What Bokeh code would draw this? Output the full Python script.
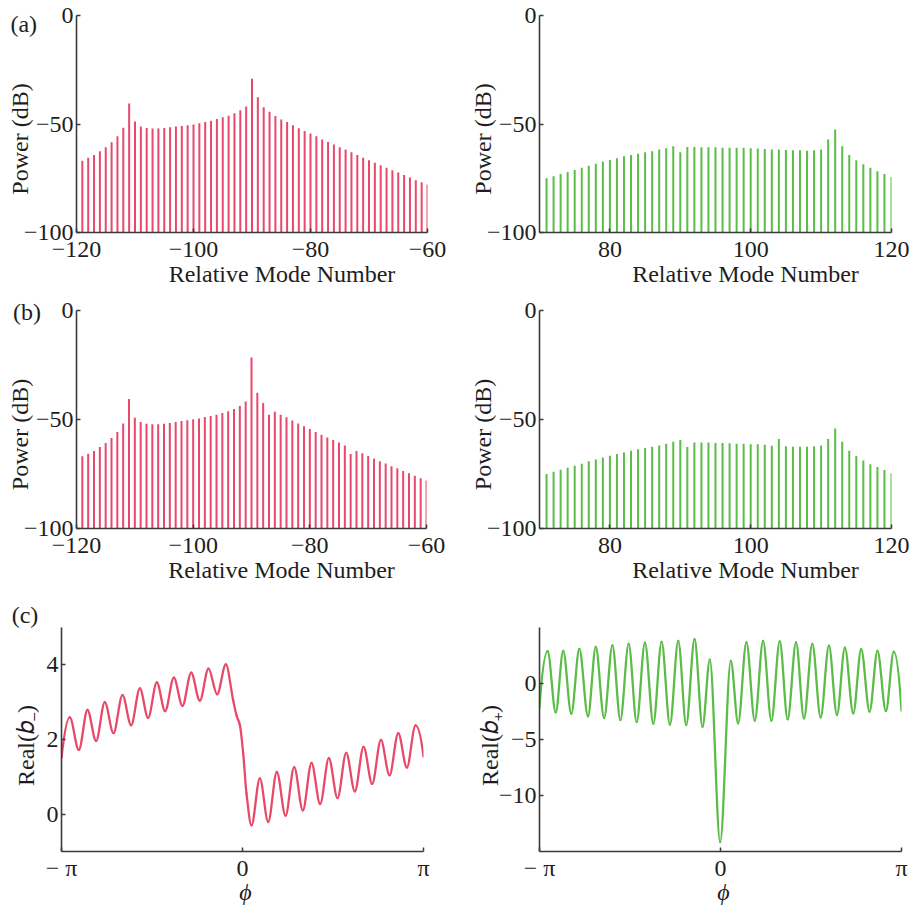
import numpy as np
from bokeh.plotting import figure
from bokeh.layouts import column, row
from bokeh.models import Range1d, FixedTicker, Label, ColumnDataSource
from bokeh.embed import file_html
from bokeh.resources import INLINE

# ---------------- data ----------------
modes_left = list(range(-119, -59))          # relative mode numbers, left spectra
modes_right = list(range(71, 121))           # relative mode numbers, right spectra

power_a_left = [-66.9, -65.6, -64.3, -62.6, -60.7, -58.4, -55.7, -51.7, -40.6, -48.9,
                -51.1, -51.8, -52.1, -52.1, -51.8, -51.5, -51.2, -50.9, -50.6, -50.2,
                -49.7, -49.1, -48.5, -47.7, -46.9, -46.2, -45.1, -43.7, -41.9, -29.1,
                -37.7, -42.3, -44.3, -46.3, -47.9, -49.1, -50.6, -52.0, -53.2, -54.4,
                -55.7, -57.1, -58.3, -59.5, -60.7, -61.8, -63.0, -64.3, -65.5, -66.7,
                -67.8, -69.0, -70.2, -71.3, -72.4, -73.5, -74.7, -75.9, -76.8, -77.9]

power_a_right = [-75.0, -74.1, -73.0, -72.1, -71.2, -70.2, -69.2, -68.3, -67.3, -66.6,
                 -65.8, -64.9, -64.3, -63.7, -63.0, -62.6, -61.8, -61.2, -60.3, -63.0,
                 -60.6, -60.6, -60.7, -60.7, -60.7, -60.9, -60.9, -61.0, -61.0, -61.2,
                 -61.3, -61.5, -61.7, -61.8, -62.0, -62.1, -62.1, -62.3, -62.1, -61.8,
                 -57.2, -52.5, -60.3, -64.3, -66.7, -68.6, -70.2, -71.8, -73.0, -74.4]

power_b_left = [-66.9, -65.7, -64.4, -62.6, -60.8, -58.5, -55.7, -51.8, -40.6, -49.2,
                -51.1, -51.9, -52.2, -52.2, -51.9, -51.6, -51.1, -50.7, -50.4, -49.9,
                -49.5, -48.9, -48.4, -47.8, -47.0, -46.2, -45.2, -43.8, -41.8, -21.6,
                -37.7, -42.4, -47.8, -46.4, -47.8, -49.0, -50.5, -51.8, -53.1, -54.4,
                -55.7, -57.0, -58.2, -59.4, -60.6, -61.9, -65.8, -64.5, -65.5, -66.8,
                -68.0, -69.1, -70.2, -71.4, -72.4, -73.6, -74.7, -75.8, -76.9, -78.0]

power_b_right = [-75.0, -74.0, -73.0, -72.1, -71.2, -70.3, -69.2, -68.3, -67.4, -66.6,
                 -65.8, -65.1, -64.3, -63.7, -63.1, -62.5, -61.9, -61.1, -60.2, -59.4,
                 -62.6, -60.6, -60.6, -60.6, -60.8, -60.8, -60.9, -61.1, -61.1, -61.3,
                 -61.4, -61.6, -62.0, -58.9, -62.3, -62.5, -62.5, -62.5, -62.3, -61.9,
                 -58.9, -54.1, -60.2, -64.3, -66.8, -68.8, -70.5, -71.8, -73.2, -74.6]

# (c) extrema / knots of Real(b-) and Real(b+) versus phi
phi_minus = [-3.142, -2.998, -2.841, -2.691, -2.541, -2.390, -2.240, -2.083, -1.933, -1.782,
             -1.638, -1.487, -1.343, -1.192, -1.042, -0.891, -0.741, -0.590, -0.440, -0.289,
             -0.162, -0.104, -0.046, 0.012, 0.069, 0.156, 0.301, 0.446, 0.596, 0.747,
             0.897, 1.047, 1.198, 1.348, 1.499, 1.649, 1.800, 1.950, 2.101, 2.251,
             2.402, 2.552, 2.703, 2.853, 3.003, 3.142]
real_b_minus = [1.50, 2.59, 1.72, 2.79, 1.96, 3.00, 2.17, 3.19, 2.38, 3.37,
                2.58, 3.53, 2.76, 3.66, 2.90, 3.79, 3.04, 3.90, 3.21, 4.01,
                3.05, 2.65, 2.39, 1.63, 0.56, -0.30, 0.96, -0.21, 1.13, -0.04,
                1.26, 0.10, 1.37, 0.27, 1.50, 0.43, 1.64, 0.61, 1.80, 0.81,
                1.99, 1.04, 2.17, 1.25, 2.38, 1.54]

phi_plus = [-3.142, -3.00, -2.86, -2.73, -2.59, -2.45, -2.30, -2.165, -2.02, -1.876,
            -1.738, -1.594, -1.455, -1.311, -1.166, -1.022, -0.878, -0.733, -0.595, -0.450,
            -0.312, -0.185, -0.006, 0.179, 0.306, 0.450, 0.595, 0.739, 0.883, 1.028,
            1.166, 1.311, 1.449, 1.594, 1.738, 1.882, 2.021, 2.159, 2.304, 2.442,
            2.587, 2.725, 2.870, 3.008, 3.142]
real_b_plus = [-2.14, 2.88, -2.58, 2.91, -2.70, 3.09, -2.94, 3.26, -3.09, 3.41,
               -3.26, 3.53, -3.44, 3.65, -3.59, 3.71, -3.68, 3.80, -3.71, 3.95,
               -3.86, 2.14, -14.15, 2.02, -3.56, 3.68, -3.32, 3.80, -3.32, 3.77,
               -3.20, 3.68, -3.12, 3.53, -3.03, 3.38, -2.82, 3.20, -2.67, 3.06,
               -2.52, 2.91, -2.46, 2.85, -2.43]

# tick values / labels
power_ticks = [-100, -50, 0]
power_tick_labels = ["\u2212100", "\u221250", "0"]
left_mode_ticks = [-120, -100, -80, -60]
left_mode_tick_labels = ["\u2212120", "\u2212100", "\u221280", "\u221260"]
right_mode_ticks = [80, 100, 120]
right_mode_tick_labels = ["80", "100", "120"]
phi_ticks = [-np.pi, 0.0, np.pi]
phi_tick_labels = ["\u2212 \u03c0", "0", "\u03c0"]
bm_ticks = [0, 2, 4]
bm_tick_labels = ["0", "2", "4"]
bp_ticks = [-10, -5, 0]
bp_tick_labels = ["\u221210", "\u22125", "0"]

# ---------------- style ----------------
FONT = "Liberation Serif"
TXT = "#1e1e1e"
AX = "#3a3a3a"
RED = "#E8496A"
GREEN = "#5BBD47"
FS = "24px"
FIG_SP = "\u2007"   # fixed-width spaces used to offset centred axis titles as in the original
NB_SP = "\u00a0"

MODE_LABEL = FIG_SP * 5 + "Relative Mode Number"
POWER_LABEL = "Power (dB)" + FIG_SP * 2 + NB_SP
BM_LABEL = "Real(\U0001D44F\u208B)" + FIG_SP
BP_LABEL = "Real(\U0001D44F\u208A)" + FIG_SP
PHI_LABEL = NB_SP + "\u03d5"


def make_fig(w, h, bl, br, bt, bb, xr, yr):
    p = figure(width=w, height=h, x_range=xr, y_range=yr,
               output_backend="svg", toolbar_location=None,
               min_border_left=bl, min_border_right=br,
               min_border_top=bt, min_border_bottom=bb)
    p.outline_line_color = None
    p.xgrid.visible = False
    p.ygrid.visible = False
    p.background_fill_color = "white"
    p.border_fill_color = "white"
    return p


def style_axes(p, xt, xl, yt, yl, xlabel, ylabel, ystand, xstand, tick_stand, xstyle="normal"):
    for ax in (p.xaxis[0], p.yaxis[0]):
        ax.axis_line_color = AX
        ax.axis_line_width = 1.6
        ax.major_tick_line_color = AX
        ax.major_tick_line_width = 1.5
        ax.major_tick_in = 4
        ax.major_tick_out = 0
        ax.minor_tick_line_color = None
        ax.major_label_text_font = FONT
        ax.major_label_text_font_size = FS
        ax.major_label_text_color = TXT
        ax.major_label_standoff = 3
        ax.axis_label_text_font = FONT
        ax.axis_label_text_font_size = FS
        ax.axis_label_text_color = TXT
        ax.axis_label_text_font_style = "normal"
    p.xaxis[0].major_label_standoff = tick_stand
    p.xaxis[0].ticker = FixedTicker(ticks=list(xt))
    p.xaxis[0].major_label_overrides = {t: s for t, s in zip(xt, xl)}
    p.yaxis[0].ticker = FixedTicker(ticks=list(yt))
    p.yaxis[0].major_label_overrides = {t: s for t, s in zip(yt, yl)}
    p.xaxis[0].axis_label = xlabel
    p.yaxis[0].axis_label = ylabel
    p.xaxis[0].axis_label_standoff = xstand
    p.yaxis[0].axis_label_standoff = ystand
    p.xaxis[0].axis_label_text_font_style = xstyle


def panel_label(p, text, x, y):
    # panel letter; placed in a side panel so that it is not clipped to the frame
    p.add_layout(Label(x=x, y=y, x_units="data", y_units="data", text=text,
                       text_font=FONT, text_font_size=FS, text_color=TXT,
                       text_baseline="alphabetic", text_align="left"), "right")


def stems(p, modes, powers, color):
    base = p.y_range.start
    src = ColumnDataSource(dict(m=modes, top=powers, base=[base] * len(modes)))
    p.segment(x0="m", y0="base", x1="m", y1="top", source=src,
              line_color=color, line_width=2.0)


def smooth_curve(p, xs, ys, color):
    # cubic segments through the read knots (flat at extrema), drawn as Bezier glyphs
    x = np.asarray(xs, float)
    y = np.asarray(ys, float)
    h = np.diff(x)
    d = np.diff(y) / h
    n = len(x)
    m = np.zeros(n)
    for k in range(1, n - 1):
        if d[k - 1] * d[k] > 0:
            w1 = 2 * h[k] + h[k - 1]
            w2 = h[k] + 2 * h[k - 1]
            m[k] = (w1 + w2) / (w1 / d[k - 1] + w2 / d[k])

    def end(h0, h1, d0, d1):
        s = ((2 * h0 + h1) * d0 - h0 * d1) / (h0 + h1)
        if np.sign(s) != np.sign(d0):
            s = 0.0
        elif np.sign(d0) != np.sign(d1) and abs(s) > abs(3 * d0):
            s = 3 * d0
        return s

    m[0] = end(h[0], h[1], d[0], d[1])
    m[-1] = end(h[-1], h[-2], d[-1], d[-2])
    src = ColumnDataSource(dict(
        x0=x[:-1], y0=y[:-1], x1=x[1:], y1=y[1:],
        cx0=x[:-1] + h / 3, cy0=y[:-1] + m[:-1] * h / 3,
        cx1=x[1:] - h / 3, cy1=y[1:] - m[1:] * h / 3))
    p.bezier(x0="x0", y0="y0", x1="x1", y1="y1", cx0="cx0", cy0="cy0",
             cx1="cx1", cy1="cy1", source=src, line_color=color,
             line_width=2.3, line_cap="round")


# rows (a), (b): left canvas 0..454 (frame 76..427), right canvas 454..909 (frame 539..891)
LW_AB, RW_AB = 454, 455
# row (c): left canvas 0..450 (frame 61..423), right canvas 450..909 (frame 539..901)
LW_C, RW_C = 450, 459

# ---- row (a)
a_l = make_fig(LW_AB, 290, 76, 27, 15, 58, Range1d(-120, -60), Range1d(-100, 0))
stems(a_l, modes_left, power_a_left, RED)
style_axes(a_l, left_mode_ticks, left_mode_tick_labels, power_ticks, power_tick_labels,
           MODE_LABEL, POWER_LABEL, -12, 1, 9)
panel_label(a_l, "(a)", -131.3, -4.0)

a_r = make_fig(RW_AB, 290, 85, 18, 15, 58, Range1d(70, 120), Range1d(-100, 0))
stems(a_r, modes_right, power_a_right, GREEN)
style_axes(a_r, right_mode_ticks, right_mode_tick_labels, power_ticks, power_tick_labels,
           MODE_LABEL, POWER_LABEL, -12, 1, 9)

# ---- row (b)
b_l = make_fig(LW_AB, 300, 76, 27, 20, 62, Range1d(-120, -60), Range1d(-100, 0))
stems(b_l, modes_left, power_b_left, RED)
style_axes(b_l, left_mode_ticks, left_mode_tick_labels, power_ticks, power_tick_labels,
           MODE_LABEL, POWER_LABEL, -12, 1, 9)
panel_label(b_l, "(b)", -130.9, -0.7)

b_r = make_fig(RW_AB, 300, 85, 18, 20, 62, Range1d(70, 120), Range1d(-100, 0))
stems(b_r, modes_right, power_b_right, GREEN)
style_axes(b_r, right_mode_ticks, right_mode_tick_labels, power_ticks, power_tick_labels,
           MODE_LABEL, POWER_LABEL, -12, 1, 9)

# ---- row (c)
c_l = make_fig(LW_C, 317, 61, 27, 37, 55, Range1d(-np.pi, np.pi), Range1d(-1, 5))
smooth_curve(c_l, phi_minus, real_b_minus, RED)
style_axes(c_l, phi_ticks, phi_tick_labels, bm_ticks, bm_tick_labels,
           PHI_LABEL, BM_LABEL, 5, -5, 3, xstyle="italic")
panel_label(c_l, "(c)", -4.006, 5.33)

c_r = make_fig(RW_C, 317, 89, 8, 37, 55, Range1d(-np.pi, np.pi), Range1d(-15, 5))
smooth_curve(c_r, phi_plus, real_b_plus, GREEN)
style_axes(c_r, phi_ticks, phi_tick_labels, bp_ticks, bp_tick_labels,
           PHI_LABEL, BP_LABEL, -7, -5, 3, xstyle="italic")

layout = column(row(a_l, a_r), row(b_l, b_r), row(c_l, c_r))

with open("out.html", "w") as f:
    f.write(file_html(layout, INLINE))
